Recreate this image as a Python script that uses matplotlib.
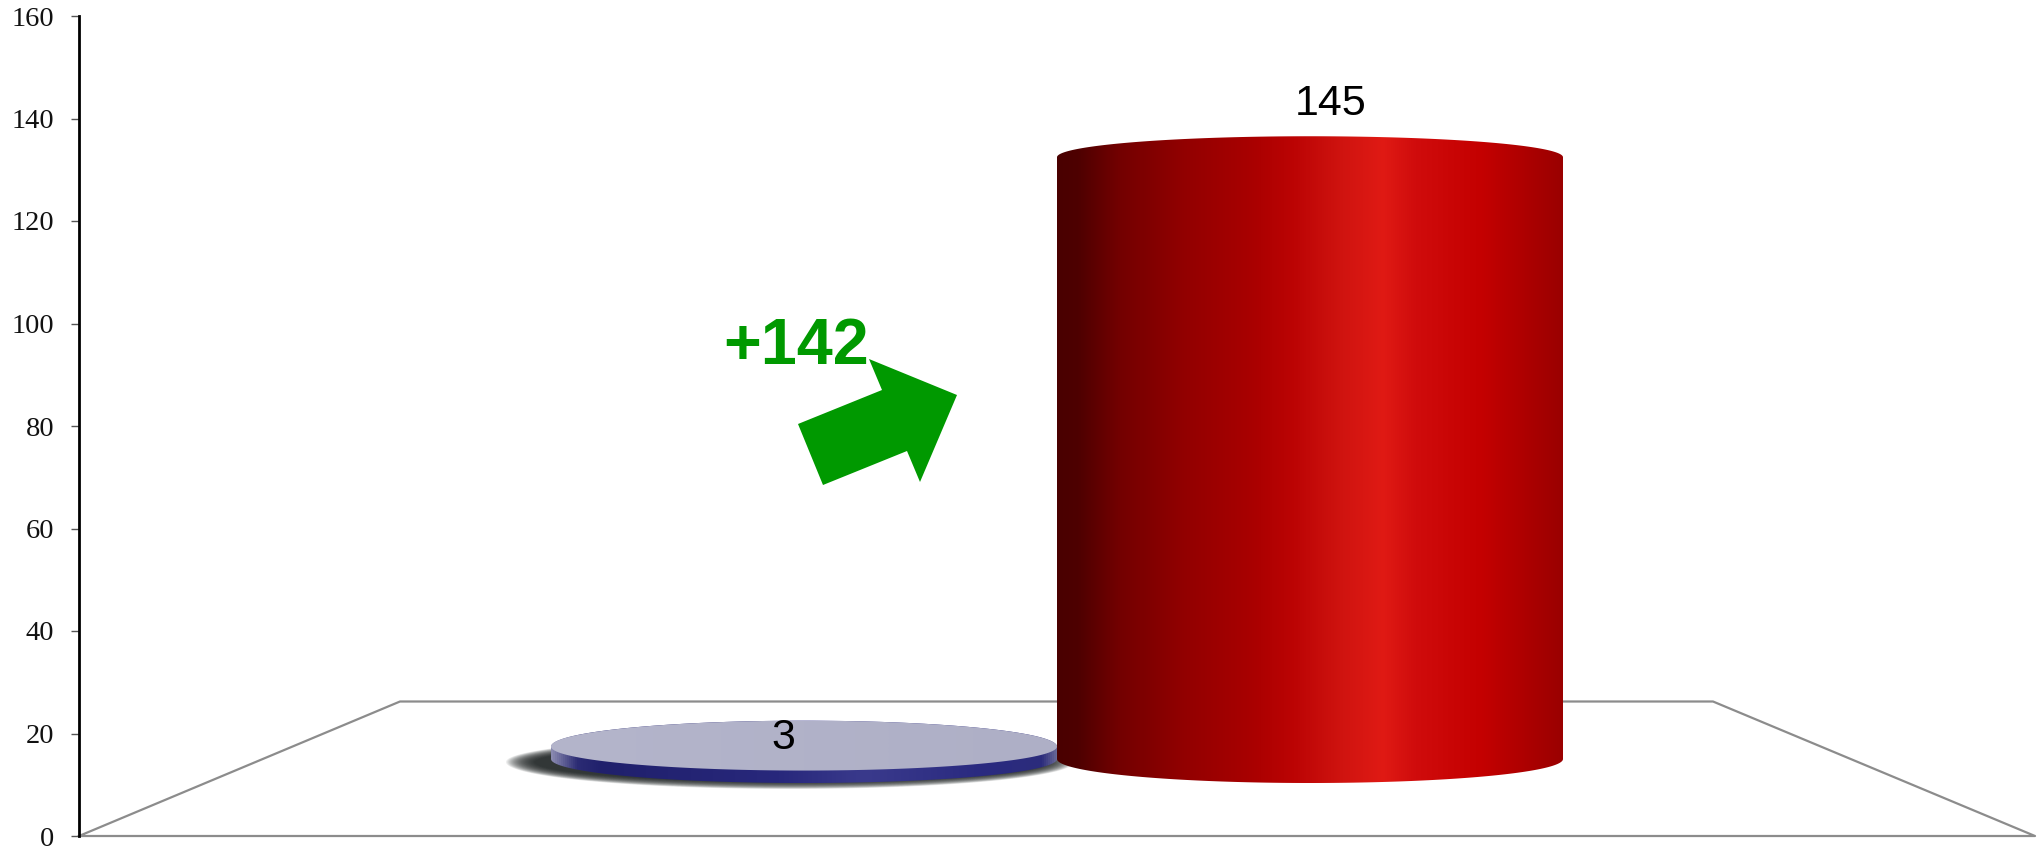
import numpy as np
import matplotlib
matplotlib.use('Agg')
from matplotlib import pyplot as plt
from matplotlib.colors import LinearSegmentedColormap
from matplotlib.patches import Polygon

# chart values
categories = ['before', 'after']
values = [3, 145]
value_labels = ['3', '145']
change_label = '+142'
y_ticks = [0, 20, 40, 60, 80, 100, 120, 140, 160]

W, H = 2041, 851
AX_L, AX_R, AX_T, AX_B = 79, 2036, 16, 836
SLOT = 506.0         # px width of one category
FIRST_X = 804.0      # px centre of first category
BASE_Y = 759.0       # px centre of the cylinder base
PX_PER_VALUE = 4.15  # vertical px per unit of bar height

fig = plt.figure(figsize=(W/100, H/100), dpi=100)
ax = fig.add_axes([AX_L/W, (H-AX_B)/H, (AX_R-AX_L)/W, (AX_B-AX_T)/H])

def data_y(py):
    return (AX_B-py)/(AX_B-AX_T)*160

def data_x(px):
    return (px-FIRST_X)/SLOT

def to_data(points):
    pts = np.asarray(points, dtype=float)
    return np.column_stack([data_x(pts[:, 0]), data_y(pts[:, 1])])

def half_ellipse(cx, cy, rx, ry, upper):
    # left to right, over the top or under the bottom
    t = np.linspace(np.pi, 0, 120) if upper else np.linspace(np.pi, 2*np.pi, 120)
    return np.column_stack([cx+rx*np.cos(t), cy-ry*np.sin(t)])

def gradient_fill(outline, stops, zorder):
    poly = Polygon(to_data(outline), closed=True, fc='none', ec='none',
                   transform=ax.transData)
    ax.add_patch(poly)
    cmap = LinearSegmentedColormap.from_list('g', stops)
    xs = outline[:, 0]
    im = ax.imshow(np.linspace(0, 1, 512)[None, :], cmap=cmap, aspect='auto',
                   extent=[data_x(xs.min()), data_x(xs.max()), data_y(outline[:, 1].max()),
                           data_y(outline[:, 1].min())], zorder=zorder)
    im.set_clip_path(poly)

# floor outline
floor = to_data([(79, 836), (400, 701.5), (1713, 701.5), (2035, 836), (79, 836)])
ax.plot(floor[:, 0], floor[:, 1], color='#8c8c8c', lw=1.6, zorder=1, clip_on=False)

red_stops = [(0, '#4a0000'), (0.04, '#4e0000'), (0.12, '#720000'), (0.25, '#920000'),
             (0.38, '#a80000'), (0.47, '#bc0404'), (0.565, '#d01410'), (0.645, '#e01a14'),
             (0.71, '#d00c0c'), (0.84, '#c40000'), (1, '#9a0000')]
blue_stops = [(0, '#8a8ab0'), (0.05, '#2c2c74'), (0.10, '#20206c'), (0.45, '#28287c'),
              (0.62, '#3a3a8c'), (0.85, '#2a2a80'), (0.97, '#2c2c7c'), (1, '#6a6a98')]
top_stops = [(0, '#b4b5cb'), (1, '#aeafc6')]

# drop shadow of the flat bar
n_shadow = 26
for i in range(n_shadow):
    grow = 1-i/n_shadow
    sx = FIRST_X-14
    up = half_ellipse(sx, 762, 254+30*grow, 16+9*grow, True)
    low = half_ellipse(sx, 762, 254+30*grow, 19+8*grow, False)
    ring = to_data(np.vstack([up, low[::-1]]))
    ax.add_patch(Polygon(ring, closed=True, fc='#1c2222', ec='none', alpha=0.08, zorder=2))

# cylinders
for i, v in enumerate(values):
    cx = FIRST_X+i*SLOT
    rx = SLOT/2
    top_y = BASE_Y-v*PX_PER_VALUE
    up_r = 26-5*(v/145)
    upper = half_ellipse(cx, top_y, rx, up_r, True)
    lower = half_ellipse(cx, BASE_Y, rx, 24, False)
    gradient_fill(np.vstack([upper, lower[::-1]]), red_stops if i else blue_stops, 3+i*2)
    if v < 20:
        # flat bar: the lid is visible
        lid = np.vstack([upper, half_ellipse(cx, top_y, rx, 24, False)[::-1]])
        gradient_fill(lid, top_stops, 4)

# value labels
label_pos = [(783, 749), (1331, 115)]
for s, (px, py) in zip(value_labels, label_pos):
    ax.text(data_x(px), data_y(py), s, family='Liberation Sans', fontsize=31,
            ha='center', va='baseline', color='black', zorder=8)

# change arrow and text
arrow = to_data([(798, 424), (882, 390), (869, 359), (957, 395),
                 (920, 482), (907, 451), (823, 485)])
ax.add_patch(Polygon(arrow, closed=True, fc='#009900', ec='none', zorder=8))
ax.text(data_x(723), data_y(364), change_label, family='Liberation Sans', fontsize=46.5,
        fontweight='bold', color='#009900', ha='left', va='baseline', zorder=8)

ax.set_xlim(data_x(AX_L), data_x(AX_R))
ax.set_ylim(0, 160)
ax.set_yticks(y_ticks)
ax.set_xticks([])
ax.tick_params(axis='y', length=5.8, width=1, color='#555555', pad=12, labelsize=20.5,
               labelfontfamily='Liberation Serif', labelcolor='#111111')
for name in ['top', 'right', 'bottom']:
    ax.spines[name].set_visible(False)
ax.spines['left'].set_linewidth(2)
ax.spines['left'].set_color('black')
ax.patch.set_visible(False)

fig.savefig('out.png', dpi=100, facecolor='white')
